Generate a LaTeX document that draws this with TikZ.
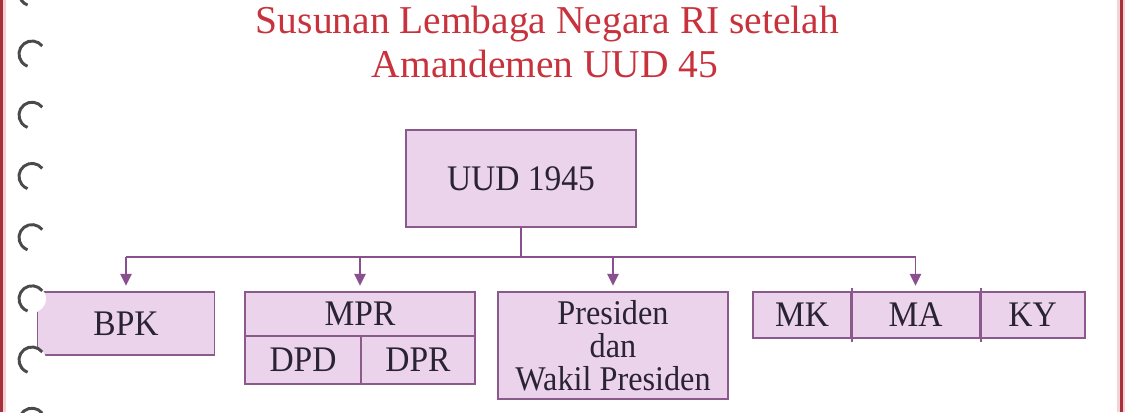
\documentclass[tikz,border=0pt]{standalone}
\usepackage{fontspec}
\setmainfont{Liberation Serif}
\newfontfamily\boxfont{Liberation Serif}[FakeStretch=0.93]
\usetikzlibrary{arrows.meta}
\definecolor{titlered}{HTML}{C8323C}
\definecolor{boxfill}{HTML}{EBD3EB}
\definecolor{boxline}{HTML}{8A5A8C}
\definecolor{connc}{HTML}{8A4F8E}
\definecolor{txt}{HTML}{2A2235}
\definecolor{borderred}{HTML}{A8303A}
\definecolor{borderpink}{HTML}{F2D2D4}
\definecolor{ringc}{HTML}{4A4A4A}
\begin{document}
\begin{tikzpicture}[x=0.75pt,y=0.75pt,
  box/.style={draw=boxline, fill=boxfill, line width=1.3pt, rectangle, inner sep=0pt,
    text=txt, font=\boxfont\fontsize{27}{30}\selectfont},
  titlefont/.style={text=titlered, font=\fontsize{29.6}{36}\selectfont, inner sep=0pt},
  conn/.style={draw=connc, line width=1.3pt},
  arr/.style={conn, -{Triangle[length=9pt,width=8.5pt]}, shorten >=4pt},
  ringarc/.style={draw=ringc, line width=2.2pt}]
\useasboundingbox (0,0) rectangle (1125,-412);
\fill[white] (0,0) rectangle (1125,-412);
% page borders
\fill[borderred] (0,0) rectangle (3,-412);
\fill[borderpink] (3,0) rectangle (6,-412);
\fill[borderpink] (1117,0) rectangle (1120,-412);
\fill[borderred] (1120,0) rectangle (1123,-412);
\fill[borderpink] (1123,0) rectangle (1125,-412);
% title
\node[titlefont, anchor=base] (t1) at (547.5,-33) {Susunan Lembaga Negara RI setelah};
\node[titlefont, anchor=base] (t2) at (545,-77) {Amandemen UUD 45};
% boxes
\node[box, minimum width=172.5pt, minimum height=72.75pt] (uud) at (521,-178.5) {UUD 1945};
\node[box, minimum width=132.75pt, minimum height=47.25pt] (bpk) at (126,-323.5) {BPK};
\node[box, minimum width=172.5pt, minimum height=33pt] (mpr) at (360,-314) {MPR};
\node[box, minimum width=87pt, minimum height=36pt] (dpd) at (303,-360) {DPD};
\node[box, minimum width=85.5pt, minimum height=36pt] (dpr) at (418,-360) {DPR};
\node[box, minimum width=172.5pt, minimum height=80.25pt, align=center,
  font=\boxfont\fontsize{26}{24.75}\selectfont] (pres) at (613,-345.5) {Presiden\\dan\\Wakil Presiden};
\node[box, minimum width=73.5pt, minimum height=34.5pt] (mk) at (802,-315) {MK};
\node[box, minimum width=96.75pt, minimum height=34.5pt] (ma) at (915.5,-315) {MA};
\node[box, minimum width=78.75pt, minimum height=34.5pt] (ky) at (1032.5,-315) {KY};
\draw[draw=boxline, line width=1.3pt] ([yshift=2.5pt]mk.north east) -- ([yshift=-2.5pt]mk.south east);
\draw[draw=boxline, line width=1.3pt] ([yshift=2.5pt]ma.north east) -- ([yshift=-2.5pt]ma.south east);
% connectors
\coordinate (bus) at (0,-257);
\draw[conn] (uud.south) -- (uud.south |- bus);
\draw[conn] (bpk.north |- bus) -- (ma.north |- bus);
\draw[arr] (bpk.north |- bus) -- (bpk.north);
\draw[arr] (mpr.north |- bus) -- (mpr.north);
\draw[arr] (pres.north |- bus) -- (pres.north);
\draw[arr] (ma.north |- bus) -- (ma.north);
% binder rings
\foreach \k in {-1,...,6} {
  \fill[white] (32,{-54-61.2*\k}) circle[radius=10.5pt];
  \draw[ringarc] ([shift={(38:9.75pt)}]32,{-54-61.2*\k}) arc[start angle=38, end angle=250, radius=9.75pt];
}
\end{tikzpicture}
\end{document}
